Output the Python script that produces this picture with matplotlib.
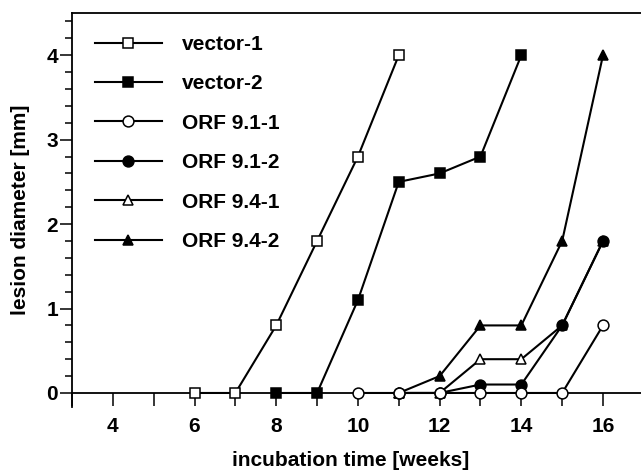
import matplotlib
matplotlib.use('Agg')
import matplotlib.pyplot as plt
from matplotlib.ticker import MultipleLocator

plt.rcParams['font.family'] = ['Liberation Sans', 'DejaVu Sans']
plt.rcParams['font.weight'] = 'bold'
plt.rcParams['font.size'] = 15

# data (week, lesion diameter in mm)
weeks_v1 = [6, 7, 8, 9, 10, 11]
vector_1 = [0, 0, 0.8, 1.8, 2.8, 4.0]
weeks_v2 = [8, 9, 10, 11, 12, 13, 14]
vector_2 = [0, 0, 1.1, 2.5, 2.6, 2.8, 4.0]
weeks_911 = [10, 11, 12, 13, 14, 15, 16]
orf_91_1 = [0, 0, 0, 0, 0, 0, 0.8]
weeks_912 = [11, 12, 13, 14, 15, 16]
orf_91_2 = [0, 0, 0.1, 0.1, 0.8, 1.8]
weeks_941 = [11, 12, 13, 14, 15, 16]
orf_94_1 = [0, 0, 0.4, 0.4, 0.8, 1.8]
weeks_942 = [11, 12, 13, 14, 15, 16]
orf_94_2 = [0, 0.2, 0.8, 0.8, 1.8, 4.0]

labels = ['vector-1', 'vector-2', 'ORF 9.1-1', 'ORF 9.1-2', 'ORF 9.4-1', 'ORF 9.4-2']

fig = plt.figure(figsize=(6.41, 4.71), dpi=100)
ax = fig.add_axes([0.1123, 0.1359, 0.8877, 0.8365])

lw = 1.5
ms = 7.8
mew = 1.1
common = dict(color='black', lw=lw, ms=ms, mew=mew, mec='black', clip_on=False)

h1, = ax.plot(weeks_v1, vector_1, marker='s', mfc='white', zorder=3, **common)
h2, = ax.plot(weeks_v2, vector_2, marker='s', mfc='black', zorder=3, **common)
h5, = ax.plot(weeks_941, orf_94_1, marker='^', mfc='white', zorder=3, **common)
h6, = ax.plot(weeks_942, orf_94_2, marker='^', mfc='black', zorder=3, **common)
h4, = ax.plot(weeks_912, orf_91_2, marker='o', mfc='black', zorder=4, **common)
h3, = ax.plot(weeks_911, orf_91_1, marker='o', mfc='white', zorder=5, **common)

ax.set_xlim(3, 16.93)
ax.set_ylim(-0.166, 4.5)

ax.spines['right'].set_visible(False)
ax.spines['bottom'].set_position(('data', 0))
for s in ['left', 'top', 'bottom']:
    ax.spines[s].set_linewidth(1.3)

ax.set_xticks([4, 6, 8, 10, 12, 14, 16])
ax.xaxis.set_minor_locator(MultipleLocator(1))
ax.yaxis.set_major_locator(MultipleLocator(1))
ax.yaxis.set_minor_locator(MultipleLocator(0.2))

ax.tick_params(axis='x', which='both', direction='out', length=9.5, width=1.1, pad=8)
ax.tick_params(axis='y', which='major', direction='out', length=9, width=1.1, pad=1)
ax.tick_params(axis='y', which='minor', direction='out', length=5, width=1.1)
ax.tick_params(top=False, right=False)

ax.set_xlabel('incubation time [weeks]', fontweight='bold')
ax.xaxis.set_label_coords(0.49, -0.112)
ax.set_ylabel('lesion diameter [mm]', fontweight='bold', labelpad=12)

leg = ax.legend([h1, h2, h3, h4, h5, h6], labels, loc='upper left',
                bbox_to_anchor=(0.148, 0.926), bbox_transform=fig.transFigure,
                frameon=False, borderpad=0, borderaxespad=0,
                handlelength=3.2, handletextpad=1.0, labelspacing=0.98,
                prop={'weight': 'bold', 'size': 15})

fig.savefig('out.png', dpi=100)
